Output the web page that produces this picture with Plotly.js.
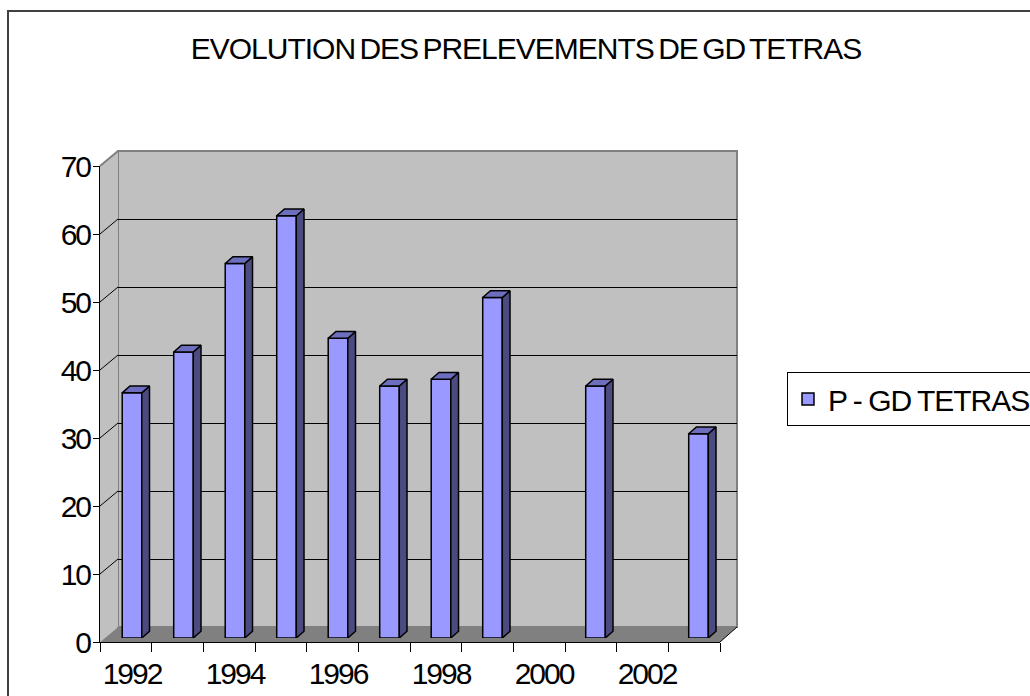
<!DOCTYPE html>
<html>
<head>
<meta charset="utf-8">
<script src="https://cdn.plot.ly/plotly-3.0.1.min.js"></script>
<style>
  html, body { margin: 0; padding: 0; background: #fff; }
  #chart { width: 1030px; height: 696px; }
  .gtitle { letter-spacing: -1px; word-spacing: -3px; }
  .xaxislayer-above, .yaxislayer-above, .xtick, .ytick, .xtick text, .ytick text { letter-spacing: -2px; }
  .legendtext { letter-spacing: -1px; word-spacing: -1px; }
</style>
</head>
<body>
<div id="chart"></div>
<script>
// ---- data ----
const years = [1992, 1993, 1994, 1995, 1996, 1997, 1998, 1999, 2000, 2001, 2002, 2003];
const prelevements = [36, 42, 55, 62, 44, 37, 38, 50, null, 37, null, 30];
const tickYears = [1992, 1994, 1996, 1998, 2000, 2002];
const tickLabels = ['1992', '1994', '1996', '1998', '2000', '2002'];
const seriesName = 'P - GD TETRAS';
const chartTitle = 'EVOLUTION DES PRELEVEMENTS DE GD TETRAS';
const yTicks = [0, 10, 20, 30, 40, 50, 60, 70];

// ---- geometry (pixels) ----
const W = 1030, H = 696;
const px = x => x / W;
const py = y => 1 - y / H;
const BACK = {x0: 118, x1: 737, top: 151, bottom: 627};   // back wall
const FRONT = {x0: 100, x1: 720, top: 166, bottom: 642};  // front axes
const BARS = {x0: 106.25, x1: 724.25, top: 161.3, bottom: 638}; // bar plane
const YMAX = 70;
const BAR_W = 0.38, DEPTH_X = 0.15, DEPTH_Y = 1.0;

const FONT = 'Arial, "Liberation Sans", sans-serif';

// ---- 3D faces from data ----
const sideX = [], sideY = [], topX = [], topY = [];
years.forEach((yr, i) => {
  const v = prelevements[i];
  if (v === null) return;
  const l = yr - BAR_W / 2, r = yr + BAR_W / 2;
  sideX.push(r, r + DEPTH_X, r + DEPTH_X, r, r, null);
  sideY.push(0, DEPTH_Y, v + DEPTH_Y, v, 0, null);
  topX.push(l, r, r + DEPTH_X, l + DEPTH_X, l, null);
  topY.push(v, v, v + DEPTH_Y, v + DEPTH_Y, v, null);
});

const axisHolder = (xa, ya) => ({
  type: 'scatter', mode: 'markers', x: [null], y: [null], xaxis: xa, yaxis: ya,
  showlegend: false, hoverinfo: 'skip', marker: {opacity: 0}
});

const traces = [
  axisHolder('x', 'y'),
  axisHolder('x2', 'y2'),
  {
    type: 'bar', name: seriesName, x: years, y: prelevements,
    xaxis: 'x3', yaxis: 'y3', width: BAR_W,
    marker: {color: '#9999FF', line: {color: '#000000', width: 1.5}},
    hoverinfo: 'x+y'
  },
  {
    type: 'scatter', mode: 'lines', x: sideX, y: sideY, xaxis: 'x3', yaxis: 'y3',
    fill: 'toself', fillcolor: '#4B4B80', line: {color: '#000000', width: 1.5},
    showlegend: false, hoverinfo: 'skip', cliponaxis: false
  },
  {
    type: 'scatter', mode: 'lines', x: topX, y: topY, xaxis: 'x3', yaxis: 'y3',
    fill: 'toself', fillcolor: '#6E6EBF', line: {color: '#000000', width: 1.5},
    showlegend: false, hoverinfo: 'skip', cliponaxis: false
  }
];

// ---- decorative walls ----
const shapes = [];
shapes.push({type: 'rect', xref: 'paper', yref: 'paper', layer: 'below',
  x0: px(BACK.x0), x1: px(BACK.x1), y0: py(BACK.bottom), y1: py(BACK.top),
  fillcolor: '#C0C0C0', line: {color: '#808080', width: 2}});
shapes.push({type: 'path', xref: 'paper', yref: 'paper', layer: 'below',
  path: `M${px(FRONT.x0)},${py(FRONT.bottom)} L${px(FRONT.x0)},${py(FRONT.top)} L${px(BACK.x0)},${py(BACK.top)} L${px(BACK.x0)},${py(BACK.bottom)} Z`,
  fillcolor: '#C0C0C0', line: {width: 0}});
shapes.push({type: 'path', xref: 'paper', yref: 'paper', layer: 'below',
  path: `M${px(FRONT.x0)},${py(FRONT.bottom)} L${px(FRONT.x1)},${py(FRONT.bottom)} L${px(BACK.x1)},${py(BACK.bottom)} L${px(BACK.x0)},${py(BACK.bottom)} Z`,
  fillcolor: '#808080', line: {width: 0}});
shapes.push({type: 'line', xref: 'paper', yref: 'paper', layer: 'below',
  x0: px(FRONT.x1), y0: py(FRONT.bottom), x1: px(BACK.x1), y1: py(BACK.bottom),
  line: {color: '#000000', width: 1}});
const frontY = v => FRONT.bottom - (FRONT.bottom - FRONT.top) * v / YMAX;
const backY = v => BACK.bottom - (BACK.bottom - BACK.top) * v / YMAX;
yTicks.forEach(v => {
  if (v === 0) return;
  shapes.push({type: 'line', xref: 'paper', yref: 'paper', layer: 'below',
    x0: px(FRONT.x0), y0: py(frontY(v)), x1: px(BACK.x0), y1: py(backY(v)),
    line: {color: v === YMAX ? '#808080' : '#000000', width: v === YMAX ? 2 : 1}});
});
shapes.push({type: 'rect', xref: 'paper', yref: 'paper', layer: 'below',
  x0: px(8), x1: px(1040), y0: py(710), y1: py(11),
  line: {color: '#404040', width: 2}, fillcolor: 'rgba(0,0,0,0)'});

const yearLo = years[0] - 0.5, yearHi = years[years.length - 1] + 0.5;
const boundaries = years.map(y => y - 0.5).concat([yearHi]);

const layout = {
  width: W, height: H,
  margin: {l: 0, r: 0, t: 0, b: 0, autoexpand: false},
  paper_bgcolor: '#FFFFFF', plot_bgcolor: 'rgba(0,0,0,0)',
  showlegend: true, hovermode: false,
  font: {family: FONT, color: '#000000'},
  title: {text: chartTitle, x: px(526), xanchor: 'center', xref: 'paper',
          y: py(48), yanchor: 'middle', yref: 'paper',
          font: {family: FONT, size: 30, color: '#000000'}},
  xaxis: {domain: [px(BACK.x0), px(BACK.x1)], anchor: 'y', range: [yearLo, yearHi],
          showgrid: false, zeroline: false, showline: false, showticklabels: false, ticks: '', fixedrange: true},
  yaxis: {domain: [py(BACK.bottom), py(BACK.top)], anchor: 'x', range: [0, YMAX],
          tickmode: 'array', tickvals: yTicks.filter(v => v > 0 && v < YMAX),
          showgrid: true, gridcolor: '#000000', gridwidth: 1,
          zeroline: false, showline: false, showticklabels: false, ticks: '', fixedrange: true},
  xaxis2: {domain: [px(FRONT.x0), px(FRONT.x1)], anchor: 'y2', range: [yearLo, yearHi],
           tickmode: 'array', tickvals: boundaries, ticks: 'outside', ticklen: 9, tickwidth: 1, tickcolor: '#000000',
           showticklabels: false, showgrid: false, zeroline: false,
           showline: true, linecolor: '#000000', linewidth: 1, fixedrange: true},
  yaxis2: {domain: [py(FRONT.bottom), py(FRONT.top)], anchor: 'x2', range: [0, YMAX],
           tickmode: 'array', tickvals: yTicks, ticks: 'outside', ticklen: 6, tickwidth: 1, tickcolor: '#000000',
           showticklabels: true, ticklabelstandoff: -3,
           tickfont: {family: FONT, size: 30, color: '#000000'},
           showgrid: false, zeroline: false,
           showline: true, linecolor: '#000000', linewidth: 1, fixedrange: true},
  xaxis3: {domain: [px(BARS.x0), px(BARS.x1)], anchor: 'y3', range: [yearLo, yearHi],
           tickmode: 'array', tickvals: tickYears, ticktext: tickLabels,
           ticks: '', ticklabelstandoff: 15,
           tickfont: {family: FONT, size: 30, color: '#000000'},
           showgrid: false, zeroline: false, showline: false, fixedrange: true},
  yaxis3: {domain: [py(BARS.bottom), py(BARS.top)], anchor: 'x3', range: [0, YMAX],
           visible: false, fixedrange: true},
  legend: {x: px(787), xanchor: 'left', y: py(372), yanchor: 'top',
           bgcolor: '#FFFFFF', bordercolor: '#000000', borderwidth: 1,
           font: {family: FONT, size: 30, color: '#000000'}},
  shapes: shapes
};

Plotly.newPlot('chart', traces, layout, {displayModeBar: false, staticPlot: true});
</script>
</body>
</html>
